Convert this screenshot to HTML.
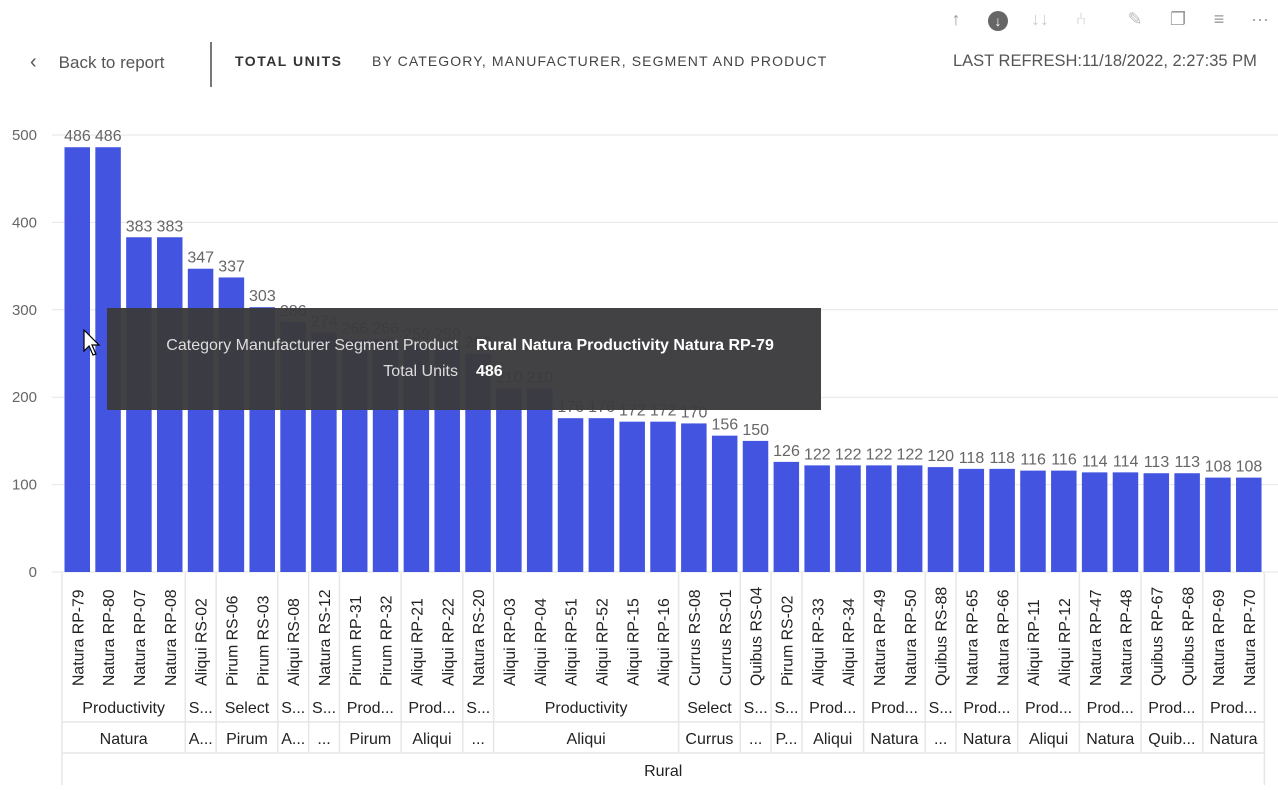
<!DOCTYPE html>
<html><head><meta charset="utf-8"><style>
body{margin:0;width:1278px;height:790px;background:#fff;font-family:"Liberation Sans",sans-serif;overflow:hidden;position:relative}
.t{position:absolute;white-space:nowrap}
.ic{position:absolute;top:9px;font-size:18px;color:#999;transform:translateX(-50%)}
</style></head><body>
<div class="t" style="left:30px;top:51px;font-size:17px;color:#555"><span style="font-size:20px;margin-right:22px">‹</span>Back to report</div>
<div style="position:absolute;left:210px;top:42px;width:2px;height:45px;background:#777"></div>
<div class="t" style="left:235px;top:53px;font-size:14px;font-weight:bold;letter-spacing:1.5px;color:#333">TOTAL UNITS</div>
<div class="t" style="left:372px;top:53px;font-size:14px;letter-spacing:1.1px;color:#444">BY CATEGORY, MANUFACTURER, SEGMENT AND PRODUCT</div>
<div class="t" style="left:953px;top:52px;font-size:16.5px;color:#555">LAST REFRESH:11/18/2022, 2:27:35 PM</div>
<span class="ic" style="left:956px">↑</span>
<span class="ic" style="left:998px;top:11px;width:20px;height:20px;border-radius:50%;background:#666;color:#fff;text-align:center;font-size:14px;line-height:20px">↓</span>
<span class="ic" style="left:1040px;color:#ccc">↓↓</span>
<span class="ic" style="left:1081px;color:#ccc">⑃</span>
<span class="ic" style="left:1135px;color:#bbb">✎</span>
<span class="ic" style="left:1178px">❐</span>
<span class="ic" style="left:1219px">≡</span>
<span class="ic" style="left:1260px">···</span>
<svg id="c" width="1278" height="790" style="position:absolute;left:0;top:0"></svg>
<div style="position:absolute;left:107px;top:308px;width:714px;height:102px;background:rgba(58,58,60,0.96);font-size:16px;color:#ddd">
<div class="t" style="right:363px;top:29px">Category Manufacturer Segment Product</div>
<div class="t" style="left:369px;top:29px;color:#fff;font-weight:bold">Rural Natura Productivity Natura RP-79</div>
<div class="t" style="right:363px;top:55px">Total Units</div>
<div class="t" style="left:369px;top:55px;color:#fff;font-weight:bold">486</div>
</div>
<svg width="20" height="30" style="position:absolute;left:83px;top:329px"><path d="M1 1 L1 22 L6 17 L10 26 L13 25 L9 16 L16 16 Z" fill="#fff" stroke="#000" stroke-width="1.2"/></svg>
<script>
const products=["Natura RP-79","Natura RP-80","Natura RP-07","Natura RP-08","Aliqui RS-02","Pirum RS-06","Pirum RS-03","Aliqui RS-08","Natura RS-12","Pirum RP-31","Pirum RP-32","Aliqui RP-21","Aliqui RP-22","Natura RS-20","Aliqui RP-03","Aliqui RP-04","Aliqui RP-51","Aliqui RP-52","Aliqui RP-15","Aliqui RP-16","Currus RS-08","Currus RS-01","Quibus RS-04","Pirum RS-02","Aliqui RP-33","Aliqui RP-34","Natura RP-49","Natura RP-50","Quibus RS-88","Natura RP-65","Natura RP-66","Aliqui RP-11","Aliqui RP-12","Natura RP-47","Natura RP-48","Quibus RP-67","Quibus RP-68","Natura RP-69","Natura RP-70"];
const units=[486,486,383,383,347,337,303,286,274,266,266,259,259,250,210,210,176,176,172,172,170,156,150,126,122,122,122,122,120,118,118,116,116,114,114,113,113,108,108];
const segments=[["Productivity",4],["S...",1],["Select",2],["S...",1],["S...",1],["Prod...",2],["Prod...",2],["S...",1],["Productivity",6],["Select",2],["S...",1],["S...",1],["Prod...",2],["Prod...",2],["S...",1],["Prod...",2],["Prod...",2],["Prod...",2],["Prod...",2],["Prod...",2]];
const manufacturers=[["Natura",4],["A...",1],["Pirum",2],["A...",1],["...",1],["Pirum",2],["Aliqui",2],["...",1],["Aliqui",6],["Currus",2],["...",1],["P...",1],["Aliqui",2],["Natura",2],["...",1],["Natura",2],["Aliqui",2],["Natura",2],["Quib...",2],["Natura",2]];
const categories=[["Rural",39]];
const yTicks=[0,100,200,300,400,500];
const svg=document.getElementById('c');const NS="http://www.w3.org/2000/svg";
const X0=62,BW=30.83,Y0=572,YS=437/500;
const x=i=>X0+i*BW, y=v=>Y0-v*YS;
function el(t,a,txt){const e=document.createElementNS(NS,t);for(const k in a)e.setAttribute(k,a[k]);if(txt!=null)e.textContent=txt;svg.appendChild(e);return e;}
yTicks.forEach(v=>{
 const g=el('line',{x1:52,x2:1278,y1:y(v),y2:y(v),stroke:'#e6e6e6'});
 
 
 const t=el('text',{x:37,y:y(v)+5,'text-anchor':'end','font-size':15,fill:'#666'},v);
 
 
});
units.forEach((v,i)=>{
 const b=el('rect',{x:x(i)+2.5,y:y(v),width:25.5,height:v*YS,fill:'#4254e0'});
 
 
 const l=el('text',{x:x(i)+BW/2,y:y(v)-6,'text-anchor':'middle','font-size':16,fill:'#666'},v);
 
 
 const p=el('text',{transform:`translate(${x(i)+BW/2+6},686) rotate(-90)`,'font-size':15.8,fill:'#222'},products[i]);
 
 
});
function row(groups,ty,top,bot,nm){let s=0;groups.forEach(([n,c])=>{
 const l=el('line',{x1:x(s),x2:x(s),y1:top,y2:bot,stroke:'#e6e6e6','stroke-width':1.5});
 
 
 const t=el('text',{x:x(s)+c*BW/2,y:ty,'text-anchor':'middle','font-size':16,fill:'#222'},n);
 
 
 s+=c;});
 const e=el('line',{x1:x(s),x2:x(s),y1:top,y2:bot,stroke:'#e6e6e6','stroke-width':1.5});
 
 }
row(segments,713,573,722,'segment');
row(manufacturers,744,722,753,'manufacturer');
row(categories,776,753,785,'category');
[722,753].forEach(v=>{const h=el('line',{x1:X0,x2:x(39),y1:v,y2:v,stroke:'#e6e6e6','stroke-width':1.5});
 
 });
</script>
</body></html>
